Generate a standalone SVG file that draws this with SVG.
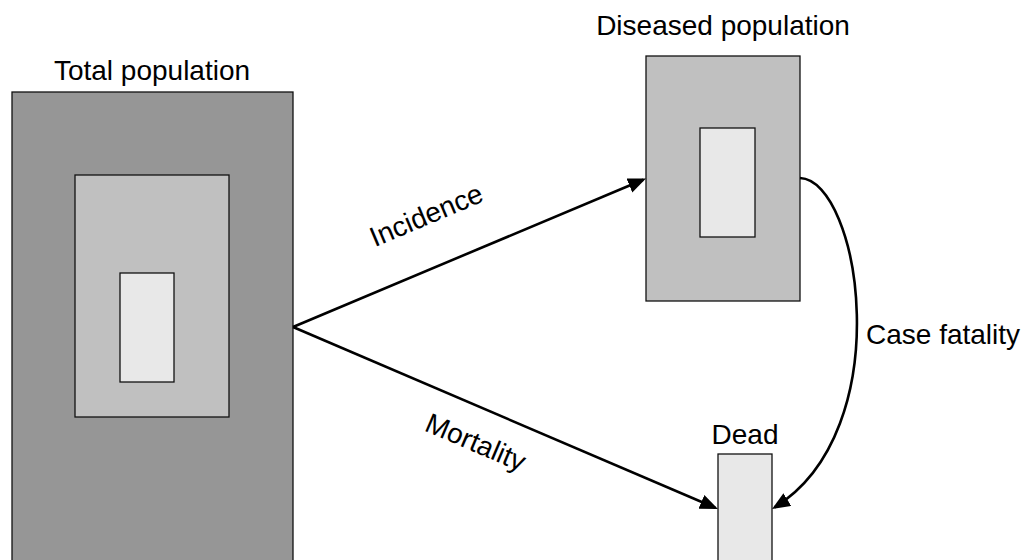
<svg xmlns="http://www.w3.org/2000/svg" width="1031" height="560" viewBox="0 0 1031 560">
  <style>
    .lbl { font-family: "Liberation Sans", Arial, sans-serif; font-size: 28px; fill: #000; }
    .box { stroke: #111; stroke-width: 1.3; }
    .outer { fill: #969696; }
    .mid { fill: #c0c0c0; }
    .inner { fill: #e8e8e8; }
    .conn { fill: none; stroke: #000; stroke-width: 2.6; }
  </style>
  <defs>
    <marker id="arrow" markerUnits="userSpaceOnUse" markerWidth="20" markerHeight="16" refX="15" refY="7.5" orient="auto">
      <path d="M0,0 L18,7.5 L0,15 Z" fill="#000"/>
    </marker>
  </defs>
  <rect width="1031" height="560" fill="#fff"/>

  <g id="total-population">
    <rect class="box outer" x="12" y="92" width="281" height="480"/>
    <rect class="box mid" x="75" y="175" width="154" height="242"/>
    <rect class="box inner" x="120" y="273" width="54" height="109"/>
    <text class="lbl" x="152" y="80" text-anchor="middle">Total population</text>
  </g>

  <g id="diseased-population">
    <rect class="box mid" x="646" y="56" width="154" height="245"/>
    <rect class="box inner" x="700" y="128" width="55" height="109"/>
    <text class="lbl" x="723" y="35" text-anchor="middle">Diseased population</text>
  </g>

  <g id="dead">
    <rect class="box inner" x="718" y="454" width="54" height="120"/>
    <text class="lbl" x="745" y="444" text-anchor="middle">Dead</text>
  </g>

  <g id="connectors">
    <path class="conn" d="M293,327 L643.2,179.7" marker-end="url(#arrow)"/>
    <path class="conn" d="M293,327 L715.2,507.8" marker-end="url(#arrow)"/>
    <path class="conn" d="M800,178 C860,180 900,430 774.6,507.4" marker-end="url(#arrow)"/>
    <text class="lbl" x="430" y="224" text-anchor="middle" transform="rotate(-22.9 430 224)">Incidence</text>
    <text class="lbl" x="472" y="451" text-anchor="middle" transform="rotate(23.2 472 451)">Mortality</text>
    <text class="lbl" x="866" y="344">Case fatality</text>
  </g>
</svg>
